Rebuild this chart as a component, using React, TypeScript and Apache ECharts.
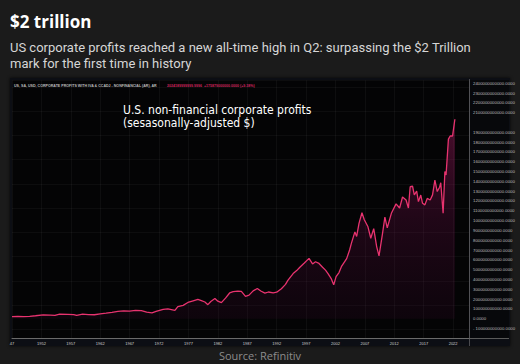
import React, { useEffect, useRef } from "react";
import * as echarts from "echarts";

// Quarter-ish sample dates (fractional years) and U.S. non-financial corporate profits (USD billions)
const years: number[] = [
  1947.0, 1948.0, 1949.0, 1950.0, 1951.0, 1952.3, 1953.5, 1954.3, 1955.1, 1956.5,
  1957.5, 1958.0, 1959.0, 1960.0, 1961.0, 1962.0, 1963.0, 1964.0, 1965.0, 1966.0,
  1967.0, 1968.0, 1969.0, 1969.9, 1970.8, 1971.5, 1972.7, 1973.5, 1974.7, 1975.2,
  1976.1, 1976.9, 1977.8, 1978.6, 1979.2, 1979.8, 1980.3, 1980.8, 1981.5, 1982.0,
  1982.6, 1983.3, 1984.0, 1984.6, 1985.4, 1986.0, 1986.7, 1987.3, 1988.0, 1988.7,
  1989.3, 1990.0, 1990.6, 1991.4, 1992.0, 1992.8, 1993.5, 1993.9, 1994.8, 1995.4,
  1995.9, 1996.7, 1997.5, 1998.1, 1998.6, 1999.2, 1999.8, 2000.3, 2000.7, 2001.3,
  2001.7, 2002.1, 2002.6, 2003.0, 2003.9, 2004.4, 2004.7, 2005.3, 2005.6, 2006.0,
  2006.5, 2006.9, 2007.5, 2008.0, 2008.5, 2009.0, 2009.4, 2010.0, 2010.4, 2010.8,
  2011.5, 2012.3, 2012.9, 2013.4, 2014.0, 2014.4, 2014.7, 2015.1, 2015.4, 2015.8,
  2016.1, 2016.5, 2016.8, 2017.2, 2017.6, 2018.1, 2018.5, 2018.9, 2019.3, 2019.7,
  2019.9, 2020.3, 2020.6, 2020.8, 2021.2, 2021.5, 2021.9, 2022.3,
];
const profits: number[] = [
  20, 24, 20, 24, 30, 38, 36, 34, 46, 44,
  42, 33, 46, 42, 40, 50, 56, 64, 74, 80,
  78, 84, 82, 66, 60, 74, 95, 100, 84, 122,
  136, 165, 182, 197, 184, 170, 143, 175, 205, 178,
  163, 210, 262, 275, 280, 278, 228, 240, 283, 308,
  282, 260, 272, 262, 270, 305, 350, 390, 460, 490,
  522, 568, 615, 558, 580, 563, 525, 495, 462, 405,
  345, 428, 470, 530, 612, 700, 768, 885, 838, 972,
  1080, 1008, 940, 820, 918, 735, 640, 870, 1035, 925,
  1074, 1170, 1128, 1240, 1210, 1128, 1345, 1350, 1262, 1300,
  1193, 1260, 1176, 1160, 1226, 1210, 1262, 1412, 1296, 1340,
  1386, 1074, 1500, 1465, 1830, 1862, 1862, 2033,
];

const title = "$2 trillion";
const subtitleLine1 = "US corporate profits reached a new all-time high in Q2: surpassing the $2 Trillion";
const subtitleLine2 = "mark for the first time in history";
const annotation = "U.S. non-financial corporate profits\n(sesasonally-adjusted $)";
const headerSeries = "US, SA, USD, CORPORATE PROFITS WITH IVA & CCADJ - NONFINANCIAL (AR), AR";
const headerValue = "2024189999999.9996  +175879000000.0000 (+9.38%)";
const lastValueLabel = "2024189999999.9996";
const source = "Source: Refinitiv";

const fmtDollars = (v: number) => (v * 1e9).toFixed(4);

export default function App() {
  const ref = useRef<HTMLDivElement>(null);

  useEffect(() => {
    if (!ref.current) return;
    const chart = echarts.init(ref.current, undefined, { renderer: "svg" });
    const data = years.map((y, i) => [y, profits[i]]);
    const last = profits[profits.length - 1];

    const subStyle = { color: "#d6d6d6", fontSize: 13, lineHeight: 15.2, fontWeight: "normal", fontFamily: "Roboto" };

    chart.setOption({
      animation: false,
      backgroundColor: "transparent",
      title: [
        {
          text: title,
          left: 10,
          top: 11,
          padding: 0,
          textStyle: { color: "#ffffff", fontSize: 17, lineHeight: 20, fontWeight: "bold", fontFamily: "Open Sans" },
        },
        { text: subtitleLine1, left: 10, top: 40.2, padding: 0, textStyle: subStyle },
        { text: subtitleLine2, left: 10, top: 55.6, padding: 0, textStyle: subStyle },
        {
          text: annotation,
          left: 123,
          top: 104,
          padding: 0,
          textStyle: {
            color: "#ffffff",
            fontSize: 12,
            lineHeight: 12.5,
            fontWeight: "normal",
            fontFamily: "'DejaVu Sans Condensed', 'Liberation Sans Narrow', 'Noto Sans'",
          },
        },
        {
          text: "{a|" + headerSeries + "}  {b|" + headerValue + "}",
          left: 14,
          top: 83,
          padding: 0,
          textStyle: {
            lineHeight: 5,
            rich: {
              a: { color: "#bbbbbb", fontSize: 3.6, lineHeight: 5, fontFamily: "Liberation Sans" },
              b: { color: "#d0245e", fontSize: 3.6, lineHeight: 5, fontFamily: "Liberation Sans" },
            },
          },
        },
        {
          text: source,
          left: "center",
          top: 348.5,
          padding: 0,
          textStyle: { color: "#8c8c8c", fontSize: 11, lineHeight: 14, fontWeight: "normal", fontFamily: "Open Sans" },
        },
      ],
      grid: [
        { left: 12, right: 51, top: 80.3, bottom: 25.7 },
        { left: 12, right: 51, top: 80.3, bottom: 34.7 },
      ],
      xAxis: [
        {
          type: "value",
          min: 1947,
          max: 2024.7,
          interval: 5,
          axisLine: { show: true, onZero: false, lineStyle: { color: "#6a6a6a", width: 1 } },
          axisTick: { show: false },
          splitLine: { show: true, lineStyle: { color: "rgba(255,255,255,0.08)", width: 0.6 } },
          axisLabel: {
            color: "#cfcfcf",
            fontSize: 4,
            margin: 3,
            showMaxLabel: false,
            fontFamily: "Liberation Sans",
            formatter: (v: number) => (v === 1947 ? "47" : String(v)),
          },
        },
        {
          type: "value",
          gridIndex: 1,
          min: 0,
          max: 1,
          show: false,
        },
      ],
      yAxis: [
        {
          type: "value",
          position: "right",
          min: -200,
          max: 2430,
          interval: 100,
          axisLine: { show: false },
          axisTick: { show: false },
          splitLine: { show: false },
          axisLabel: {
            color: "#bdbdbd",
            fontSize: 4.3,
            margin: 4,
            showMinLabel: false,
            showMaxLabel: false,
            fontFamily: "Liberation Sans",
            formatter: (v: number) =>
              Math.abs(v - last) < 60 ? "" : v < 0 ? "- " + fmtDollars(-v) : fmtDollars(v),
          },
        },
        {
          type: "value",
          gridIndex: 1,
          min: 0,
          max: 10.27,
          interval: 1,
          axisLine: { show: false },
          axisTick: { show: false },
          axisLabel: { show: false },
          splitLine: { show: true, lineStyle: { color: "rgba(255,255,255,0.07)", width: 0.6 } },
        },
      ],
      series: [
        {
          type: "line",
          data,
          xAxisIndex: 0,
          yAxisIndex: 0,
          showSymbol: false,
          symbol: "none",
          lineStyle: { color: "#e8336f", width: 1.3 },
          areaStyle: {
            color: new echarts.graphic.LinearGradient(0, 0, 0, 1, [
              { offset: 0, color: "rgba(190,30,110,0.55)" },
              { offset: 0.5, color: "rgba(120,15,80,0.35)" },
              { offset: 1, color: "rgba(60,8,45,0.25)" },
            ]),
          },
          markLine: {
            silent: true,
            symbol: "none",
            lineStyle: { opacity: 0 },
            data: [{ yAxis: last }],
            label: {
              show: true,
              position: "end",
              distance: 2,
              formatter: () => lastValueLabel,
              color: "#ffffff",
              backgroundColor: "#e2336f",
              fontSize: 4.3,
              padding: [1.5, 3, 1, 3],
              fontFamily: "Liberation Sans",
            },
          },
        },
      ],
    });
    return () => chart.dispose();
  }, []);

  return (
    <div
      style={{
        position: "fixed",
        left: 0,
        top: 0,
        width: 520,
        height: 364,
        background: "#1b1b1b",
        overflow: "hidden",
      }}
    >
      <div
        style={{
          position: "absolute",
          left: 10,
          top: 78,
          width: 500,
          height: 268,
          background: "#0c0e14",
          boxShadow: "0 0 3px rgba(0,0,0,0.8)",
        }}
      />
      <div style={{ position: "absolute", left: 12, top: 80, width: 457, height: 258, background: "#040405" }} />
      <div style={{ position: "absolute", left: 469, top: 80, width: 40, height: 258, background: "#07080b" }} />
      <div style={{ position: "absolute", left: 469, top: 79, width: 1, height: 267, background: "#4a4a4e" }} />
      <div style={{ position: "absolute", left: 469, top: 338, width: 40, height: 1, background: "#5a5a5a" }} />
      <div ref={ref} style={{ position: "absolute", left: 0, top: 0, width: 520, height: 364 }} />
    </div>
  );
}
